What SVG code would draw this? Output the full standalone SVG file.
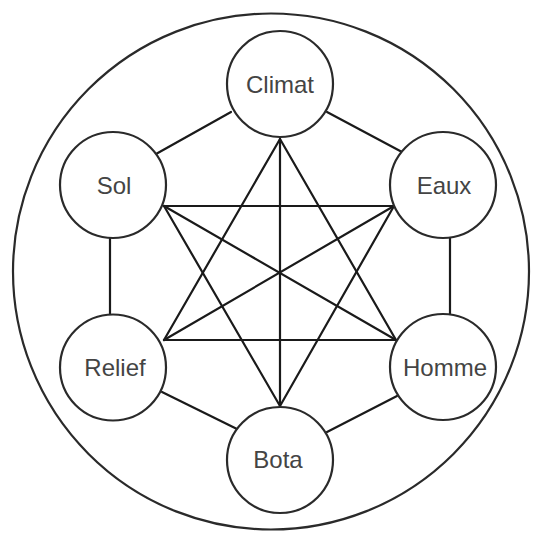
<svg xmlns="http://www.w3.org/2000/svg" width="539" height="534" viewBox="0 0 539 534">
<style>
.c{fill:#fff;stroke:#2a2a2a;stroke-width:2.2}
.l{stroke:#1a1a1a;stroke-width:2.2;fill:none;stroke-linecap:round}
.t{font-family:"Liberation Sans",Arial,sans-serif;font-size:24px;fill:#444;text-anchor:middle}
</style>
<rect width="539" height="534" fill="#fff"/>
<circle cx="271" cy="271.5" r="258" fill="none" stroke="#2a2a2a" stroke-width="2.2"/>
<g id="connectors">
<line class="l" x1="156" y1="154" x2="231" y2="112"/>
<line class="l" x1="327" y1="112" x2="402" y2="152"/>
<line class="l" x1="110" y1="237" x2="110" y2="316"/>
<line class="l" x1="450" y1="237" x2="450" y2="316"/>
<line class="l" x1="162" y1="392" x2="237" y2="429"/>
<line class="l" x1="397" y1="396" x2="327" y2="432"/>
<line class="l" x1="280" y1="139" x2="164" y2="340"/>
<line class="l" x1="280" y1="139" x2="396" y2="340"/>
<line class="l" x1="280" y1="139" x2="280" y2="406"/>
<line class="l" x1="164" y1="206" x2="394" y2="206"/>
<line class="l" x1="164" y1="206" x2="280" y2="406"/>
<line class="l" x1="394" y1="206" x2="280" y2="406"/>
<line class="l" x1="164" y1="206" x2="396" y2="340"/>
<line class="l" x1="394" y1="206" x2="164" y2="340"/>
<line class="l" x1="164" y1="340" x2="396" y2="340"/>
</g>
<g id="climat"><circle class="c" cx="280" cy="84" r="53"/><text class="t" x="280" y="93">Climat</text></g>
<g id="sol"><circle class="c" cx="113" cy="185" r="53"/><text class="t" x="114" y="194">Sol</text></g>
<g id="eaux"><circle class="c" cx="443" cy="185" r="53"/><text class="t" x="444" y="194">Eaux</text></g>
<g id="relief"><circle class="c" cx="113" cy="367.5" r="53"/><text class="t" x="115" y="376">Relief</text></g>
<g id="homme"><circle class="c" cx="443" cy="367" r="53"/><text class="t" x="445" y="376">Homme</text></g>
<g id="bota"><circle class="c" cx="280" cy="460" r="53"/><text class="t" x="278" y="468">Bota</text></g>
</svg>
